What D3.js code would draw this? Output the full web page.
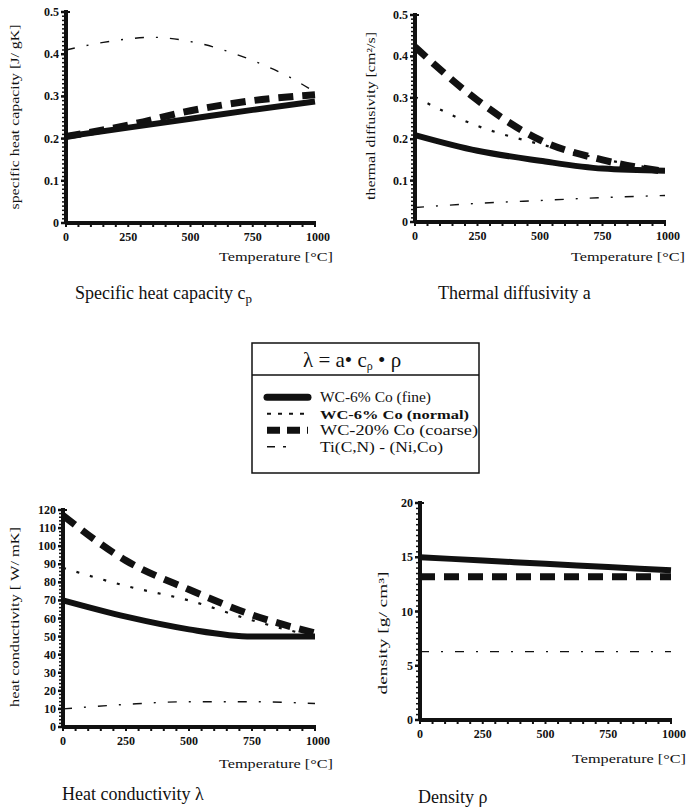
<!DOCTYPE html>
<html>
<head>
<meta charset="utf-8">
<script src="https://cdn.jsdelivr.net/npm/d3@7"></script>
<style>
body { margin: 0; background: #fff; }
svg text { font-family: "Liberation Serif", "DejaVu Serif", serif; fill: #111; }
</style>
</head>
<body>
<div id="chart"></div>
<script>
// temperature samples [°C]
var temps = [0, 250, 500, 750, 1000];
var tempsTi = [0, 150, 350, 500, 750, 900, 1000];

// specific heat capacity [J/gK]
var cpFine = [0.205, 0.226, 0.247, 0.268, 0.288];
var cpNormal = [0.205, 0.226, 0.247, 0.268, 0.288];
var cpCoarse = [0.205, 0.232, 0.266, 0.29, 0.304];
var cpTi = [0.41, 0.428, 0.44, 0.43, 0.385, 0.345, 0.31];

// thermal diffusivity [cm2/s]
var aFine = [0.21, 0.172, 0.148, 0.129, 0.124];
var aNormal = [0.302, 0.232, 0.188, 0.152, 0.125];
var aCoarse = [0.423, 0.294, 0.198, 0.15, 0.122];
var aTi = [0.035, 0.045, 0.052, 0.059, 0.064];

// heat conductivity [W/mK]
var lamFine = [70, 61, 54, 50, 50];
var lamNormal = [88, 78, 70, 59, 50];
var lamCoarse = [117, 92, 76, 62, 52];
var lamTi = [10, 12.5, 14, 14, 13];

// density [g/cm3]
var rhoFine = [15, 14.7, 14.4, 14.1, 13.8];
var rhoNormal = [15, 14.7, 14.4, 14.1, 13.8];
var rhoCoarse = [13.2, 13.2, 13.2, 13.2, 13.2];
var rhoTi = [6.3, 6.3, 6.3, 6.3, 6.3];

var seriesNames = ['WC-6%  Co (fine)', 'WC-6%   Co (normal)', 'WC-20% Co (coarse)', 'Ti(C,N) - (Ni,Co)'];
var xTicks = [0, 250, 500, 750, 1000];

var styles = [
    {width: 6, dash: null},
    {width: 2.2, dash: '3,11'},
    {width: 7, dash: '15,9'},
    {width: 1.4, dash: '9,12,2,12'}
];

var svg = d3.select('#chart').append('svg')
    .attr('width', 686)
    .attr('height', 811);

function panel(opt) {
    var g, x, y, line, i, yMinor, xMinor;

    x = d3.scaleLinear().domain([0, 1000]).range([opt.x0, opt.x1]);
    y = d3.scaleLinear().domain([0, opt.yMax]).range([opt.y0, opt.yTop]);
    g = svg.append('g');

    // minor ticks
    yMinor = d3.range(0, opt.yMax + 1e-9, opt.yMinor);
    xMinor = d3.range(0, 1001, 50);
    g.selectAll('.ym').data(yMinor).enter().append('line')
        .attr('x1', opt.x0 - 4).attr('x2', opt.x0)
        .attr('y1', function(d) { return y(d); })
        .attr('y2', function(d) { return y(d); })
        .attr('stroke', '#111').attr('stroke-width', 1.5);
    g.selectAll('.yM').data(opt.yTicks).enter().append('line')
        .attr('x1', opt.x0 - 5).attr('x2', opt.x0)
        .attr('y1', function(d) { return y(d); })
        .attr('y2', function(d) { return y(d); })
        .attr('stroke', '#111').attr('stroke-width', 2.5);
    g.selectAll('.xm').data(xMinor).enter().append('line')
        .attr('x1', function(d) { return x(d); })
        .attr('x2', function(d) { return x(d); })
        .attr('y1', opt.y0).attr('y2', opt.y0 + 4)
        .attr('stroke', '#111').attr('stroke-width', 2);

    // axes
    g.append('line')
        .attr('x1', opt.x0).attr('x2', opt.x0)
        .attr('y1', opt.y0 + 1).attr('y2', y(opt.yMax) - 2)
        .attr('stroke', '#111').attr('stroke-width', 4);
    g.append('line')
        .attr('x1', opt.x0 - 1).attr('x2', x(1000) + 1)
        .attr('y1', opt.y0).attr('y2', opt.y0)
        .attr('stroke', '#111').attr('stroke-width', 4);
    g.append('line')
        .attr('x1', opt.x0).attr('x2', opt.x0 + 4)
        .attr('y1', y(opt.yMax)).attr('y2', y(opt.yMax))
        .attr('stroke', '#111').attr('stroke-width', 2);

    // tick labels
    g.selectAll('.yl').data(opt.yTicks).enter().append('text')
        .attr('x', opt.x0 - 7)
        .attr('y', function(d) { return y(d) + 4; })
        .attr('text-anchor', 'end')
        .attr('font-size', 12)
        .attr('font-weight', 'bold')
        .text(function(d) { return opt.fmt(d); });
    g.selectAll('.xl').data(xTicks).enter().append('text')
        .attr('x', function(d) { return x(d) + (d === 1000 ? 3 : 0); })
        .attr('y', opt.y0 + 18)
        .attr('text-anchor', 'middle')
        .attr('font-size', 12)
        .attr('font-weight', 'bold')
        .text(function(d) { return d; });

    // axis titles
    g.append('text')
        .attr('transform', 'translate(' + opt.yTitleX + ',' + opt.yTitleY + ') rotate(-90)')
        .attr('text-anchor', 'middle')
        .attr('font-size', 13)
        .attr('textLength', opt.yTitleLen)
        .attr('lengthAdjust', 'spacingAndGlyphs')
        .text(opt.yTitle);
    g.append('text')
        .attr('x', opt.tempX - 114)
        .attr('y', opt.tempY)
        .attr('font-size', 13.5)
        .attr('textLength', 114)
        .attr('lengthAdjust', 'spacingAndGlyphs')
        .text('Temperature [°C]');

    // curves
    line = d3.line()
        .x(function(d) { return x(d[0]); })
        .y(function(d) { return y(d[1]); })
        .curve(d3.curveMonotoneX);
    for (i = 3; i >= 0; i--) {
        g.append('path')
            .datum(d3.zip(i === 3 ? opt.tx3 : temps, opt.series[i]))
            .attr('d', line)
            .attr('fill', 'none')
            .attr('stroke', '#111')
            .attr('stroke-width', styles[i].width)
            .attr('stroke-dasharray', styles[i].dash);
    }
    return g;
}

panel({x0: 66, x1: 315, y0: 223, yTop: 12, yMax: 0.5, yMinor: 0.01,
    yTicks: [0, 0.1, 0.2, 0.3, 0.4, 0.5], fmt: function(d) { return d === 0 ? '0' : d3.format('.1f')(d); },
    yTitle: 'specific heat capacity  [J/ gK]', yTitleX: 19, yTitleY: 117, yTitleLen: 185,
    tempX: 333, tempY: 261, tx3: tempsTi,
    series: [cpFine, cpNormal, cpCoarse, cpTi]});

panel({x0: 415, x1: 665, y0: 222, yTop: 15, yMax: 0.5, yMinor: 0.01,
    yTicks: [0, 0.1, 0.2, 0.3, 0.4, 0.5], fmt: function(d) { return d === 0 ? '0' : d3.format('.1f')(d); },
    yTitle: 'thermal diffusivity [cm²/s]', yTitleX: 375, yTitleY: 116, yTitleLen: 168,
    tempX: 685, tempY: 261, tx3: temps,
    series: [aFine, aNormal, aCoarse, aTi]});

panel({x0: 63, x1: 315, y0: 727, yTop: 510, yMax: 120, yMinor: 2,
    yTicks: d3.range(0, 121, 10), fmt: function(d) { return d; },
    yTitle: 'heat conductivity  [ W/ mK]', yTitleX: 19, yTitleY: 617, yTitleLen: 180,
    tempX: 333, tempY: 768, tx3: temps,
    series: [lamFine, lamNormal, lamCoarse, lamTi]});

panel({x0: 420, x1: 671, y0: 720, yTop: 503, yMax: 20, yMinor: 0.5,
    yTicks: [0, 5, 10, 15, 20], fmt: function(d) { return d; },
    yTitle: 'density   [g/ cm³]', yTitleX: 387, yTitleY: 633, yTitleLen: 123,
    tempX: 686, tempY: 763, tx3: temps,
    series: [rhoFine, rhoNormal, rhoCoarse, rhoTi]});

// panel titles
var titles = [
    {x: 75, y: 299, t: 'Specific heat capacity  c', sub: 'p'},
    {x: 438, y: 299, t: 'Thermal diffusivity  a', sub: null},
    {x: 62, y: 800, t: 'Heat conductivity  λ', sub: null},
    {x: 418, y: 803, t: 'Density  ρ', sub: null}
];
titles.forEach(function(d) {
    var t = svg.append('text')
        .attr('x', d.x).attr('y', d.y)
        .attr('font-size', 18)
        .text(d.t);
    if (d.sub) {
        t.append('tspan').attr('dy', 4).attr('font-size', 13).text(d.sub);
    }
});

// legend
var lg = svg.append('g');
lg.append('rect')
    .attr('x', 252).attr('y', 343).attr('width', 227).attr('height', 130)
    .attr('fill', 'none').attr('stroke', '#111').attr('stroke-width', 1.5);
lg.append('line')
    .attr('x1', 252).attr('x2', 479).attr('y1', 375).attr('y2', 375)
    .attr('stroke', '#111').attr('stroke-width', 1.5);
var eq = lg.append('text').attr('x', 303).attr('y', 367).attr('font-size', 21);
eq.append('tspan').text('λ  = a• c');
eq.append('tspan').attr('dy', 3).attr('font-size', 12).text('ρ');
eq.append('tspan').attr('dy', -3).text(' • ρ');

var legendLen = [111, 149, 158, 123];
var legendY = d3.scaleBand().domain(d3.range(4)).range([389, 455]);
seriesNames.forEach(function(name, i) {
    var yy = legendY(i) + legendY.bandwidth() / 2;
    lg.append('line')
        .attr('x1', 267).attr('x2', 308)
        .attr('y1', yy).attr('y2', yy)
        .attr('stroke', '#111')
        .attr('stroke-width', i === 0 ? 7 : styles[i].width)
        .attr('stroke-linecap', i === 0 ? 'round' : 'butt')
        .attr('stroke-dasharray', i === 1 ? '4,7' : (i === 2 ? '13,7' : (i === 3 ? '8,8,3,30' : null)));
    lg.append('text')
        .attr('x', 320).attr('y', yy + 5)
        .attr('font-size', i === 1 ? 13 : 15)
        .attr('font-weight', i === 1 ? 'bold' : 'normal')
        .attr('textLength', legendLen[i])
        .attr('lengthAdjust', 'spacingAndGlyphs')
        .text(name);
});
</script>
</body>
</html>
